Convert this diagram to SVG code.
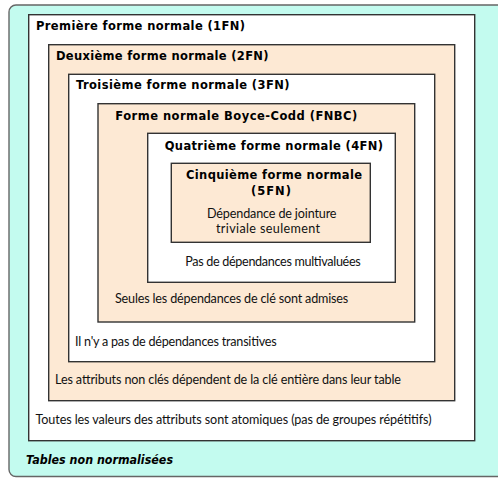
<svg xmlns="http://www.w3.org/2000/svg" width="498" height="478" viewBox="0 0 498 478">
<style>
.box{stroke:#333;stroke-width:1.4}
.w{fill:#fff}
.p{fill:#fde9d4}
.t{font-family:"DejaVu Sans",Lato,sans-serif;font-size:11.5px;font-weight:bold;fill:#000}
.r{font-family:Lato,"Open Sans",sans-serif;font-size:12.6px;fill:#111}
</style>
<rect width="498" height="478" fill="#fff"/>
<g id="nonnorm">
<rect x="9" y="5" width="500" height="471.5" rx="7" fill="#c3fbef" stroke="#666" stroke-width="1.4"/>
<text x="26" y="464" class="t" font-style="italic" textLength="147" lengthAdjust="spacingAndGlyphs">Tables non normalisées</text>
</g>
<g id="fn1">
<rect x="28.7" y="14.7" width="446" height="426" class="box w"/>
<text x="36" y="30" class="t" textLength="209">Première forme normale (1FN)</text>
<text x="35.5" y="424" class="r" textLength="396">Toutes les valeurs des attributs sont atomiques (pas de groupes répétitifs)</text>
</g>
<g id="fn2">
<rect x="48.7" y="44.7" width="406" height="356" class="box p"/>
<text x="56" y="59.5" class="t" textLength="212.5">Deuxième forme normale (2FN)</text>
<text x="55" y="384" class="r" textLength="346">Les attributs non clés dépendent de la clé entière dans leur table</text>
</g>
<g id="fn3">
<rect x="68.7" y="74.3" width="366" height="287.4" class="box w"/>
<text x="76" y="89" class="t" textLength="213.5">Troisième forme normale (3FN)</text>
<text x="75" y="346" class="r" textLength="201.7">Il n'y a pas de dépendances transitives</text>
</g>
<g id="fnbc">
<rect x="98" y="103.7" width="316.7" height="218.3" class="box p"/>
<text x="115.3" y="119.5" class="t" textLength="242">Forme normale Boyce-Codd (FNBC)</text>
<text x="115" y="302.5" class="r" textLength="233.3">Seules les dépendances de clé sont admises</text>
</g>
<g id="fn4">
<rect x="147.7" y="133.3" width="247.6" height="149" class="box w"/>
<text x="164.7" y="149.5" class="t" textLength="218.3">Quatrième forme normale (4FN)</text>
<text x="185.3" y="265.5" class="r" textLength="175.4">Pas de dépendances multivaluées</text>
</g>
<g id="fn5">
<rect x="171.3" y="163.3" width="199" height="79" class="box p"/>
<text x="186" y="179" class="t" textLength="176">Cinquième forme normale</text>
<text x="251" y="195" class="t" textLength="40">(5FN)</text>
<text x="207" y="217.5" class="r" textLength="129.5">Dépendance de jointure</text>
<text x="216" y="233" class="r" textLength="104">triviale seulement</text>
</g>
<g id="connectors"/>
</svg>
